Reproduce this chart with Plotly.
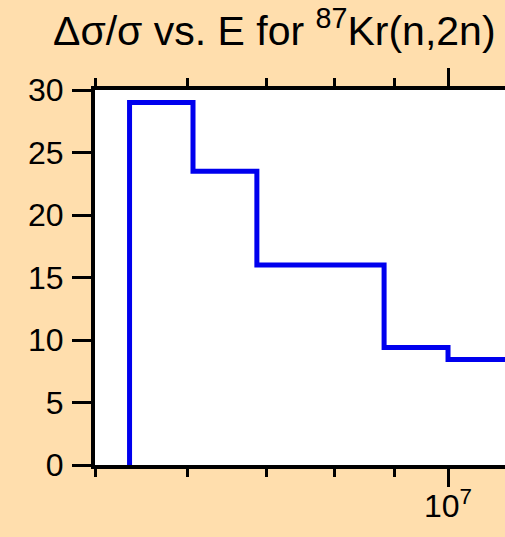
import math
import plotly.graph_objects as go

# bin edges (eV) and relative uncertainty (%) of each bin
energy_edges = [5.35e6, 6.06e6, 6.87e6, 8.82e6, 1.0e7, 1.3e7]
rel_uncert = [29.0, 23.5, 16.0, 9.4, 8.45]

major_ticks = [1e7]
major_labels = ["10<sup>7</sup>"]
minor_ticks = [5e6, 6e6, 7e6, 8e6, 9e6]
y_ticks = [0, 5, 10, 15, 20, 25, 30]

# step outline, starting from zero at the first edge
x_step = [energy_edges[0]] + energy_edges
y_step = [0] + rel_uncert + [rel_uncert[-1]]

fig = go.Figure()
fig.add_trace(go.Scatter(
    x=x_step,
    y=y_step,
    mode='lines',
    line=dict(color='#0000ee', width=5, shape='hv'),
    showlegend=False,
))

font = "Liberation Sans, Arial, sans-serif"

fig.update_layout(
    width=505,
    height=537,
    autosize=False,
    margin=dict(l=95, r=0, t=90, b=72, pad=0),
    paper_bgcolor='#FFDEAD',
    plot_bgcolor='white',
    font=dict(family=font, size=32, color='black'),
    title=dict(
        text="Δσ/σ vs. E for <sup>87</sup>Kr(n,2n)",
        font=dict(family=font, size=41, color='black'),
        xref='container', yref='container',
        x=53 / 505, xanchor='left',
        y=1 - 31 / 537, yanchor='middle',
    ),
    xaxis=dict(
        type='log',
        range=[math.log10(4.999e6), 7.0486],
        tickmode='array',
        tickvals=major_ticks,
        ticktext=major_labels,
        ticks='outside',
        ticklen=18,
        tickwidth=3,
        tickcolor='black',
        ticklabelstandoff=-8,
        minor=dict(tickmode='array', tickvals=minor_ticks, ticks='outside',
                   ticklen=8, tickwidth=3, tickcolor='black', showgrid=False),
        showline=True,
        linewidth=4,
        linecolor='black',
        mirror='ticks',
        showgrid=False,
        zeroline=False,
    ),
    yaxis=dict(
        range=[0, 30],
        tickmode='array',
        tickvals=y_ticks,
        ticks='outside',
        ticklen=19,
        tickwidth=3,
        tickcolor='black',
        ticklabelstandoff=2,
        showline=True,
        linewidth=4,
        linecolor='black',
        mirror=False,
        showgrid=False,
        zeroline=False,
    ),
)

# drop the browser's default page margin so the figure fills the window
fig.write_html("out.html", config={'displayModeBar': False},
               post_script="document.body.style.margin='0';")
